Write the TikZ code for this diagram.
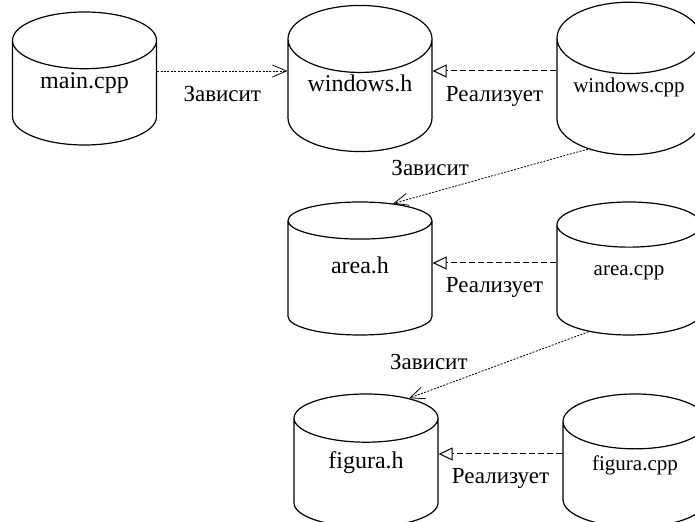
\documentclass[tikz,border=0pt]{standalone}
\usepackage{fontspec}
\setmainfont{Liberation Serif}
\usetikzlibrary{arrows.meta,shapes.geometric}

\begin{document}
\begin{tikzpicture}[x=0.5pt,y=-0.5pt,
  file/.style={cylinder,draw,line width=0.6pt,shape border rotate=90,aspect=0.64,anchor=shape center,
    minimum width=72pt,minimum height=66.5pt,inner sep=0pt,text height=9pt,text depth=13.5pt,
    font=\fontsize{12}{14}\selectfont},
  src/.style={file,font=\fontsize{10.5}{12}\selectfont},
  dep/.style={-{Straight Barb[length=7pt,width=6pt]},line width=0.4pt,dash pattern=on 1pt off 0.7pt},
  impl/.style={-{Triangle[open,length=7pt,width=6.5pt]},line width=0.5pt,dash pattern=on 3pt off 1.5pt},
  lbl/.style={font=\fontsize{11.5}{13}\selectfont}]
  \useasboundingbox (0,0) rectangle (695,522);
  % files
  \node[file] (main) at (84.5,78.5) {main.cpp};
  \node[file] (winh) at (360,78.5) {windows.h};
  \node[src] (wincpp) at (629,78.5) {windows.cpp};
  \node[file] (areah) at (360,268.5) {area.h};
  \node[src] (areacpp) at (629,268.5) {area.cpp};
  \node[file] (figh) at (366,460.5) {figura.h};
  \node[src] (figcpp) at (635,460.5) {figura.cpp};
  % arrow levels
  \coordinate (row1) at (0,71);
  \coordinate (row2) at (0,263);
  \coordinate (row3) at (0,454);
  % dependencies
  \draw[dep] (main.east |- row1) -- node[lbl,below=4pt]{Зависит} (winh.west |- row1);
  \draw[dep] (wincpp.232) -- node[lbl,pos=0.81,above=5pt]{Зависит} (areah.66);
  \draw[dep] (areacpp.232.5) -- node[lbl,pos=0.89,above=7pt]{Зависит} (figh.60);
  % realizations
  \draw[impl] (wincpp.west |- row1) -- node[lbl,below=4pt]{Реализует} (winh.east |- row1);
  \draw[impl] (areacpp.west |- row2) -- node[lbl,below=3.5pt]{Реализует} (areah.east |- row2);
  \draw[impl] (figcpp.west |- row3) -- node[lbl,below=3.5pt]{Реализует} (figh.east |- row3);
\end{tikzpicture}
\end{document}
